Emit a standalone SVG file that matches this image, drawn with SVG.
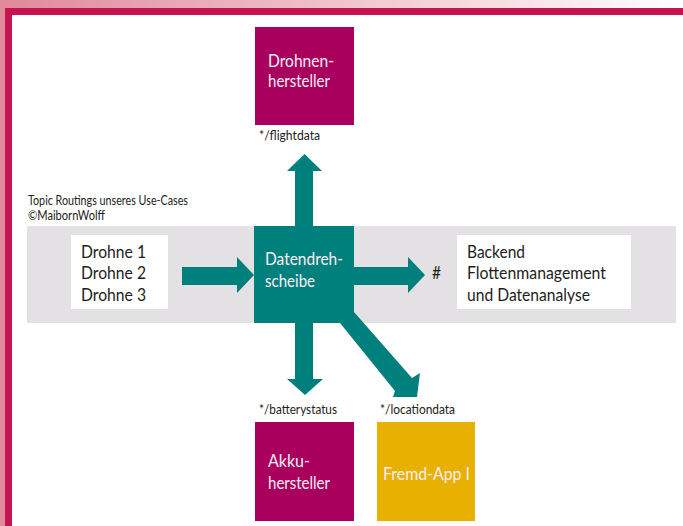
<svg xmlns="http://www.w3.org/2000/svg" width="683" height="526" viewBox="0 0 683 526">
<style>
text{font-family:"Lato","Noto Sans","Liberation Sans",sans-serif}
.n{font-size:16.5px;fill:#1d1d1b}
.w{font-size:16.5px;fill:#fdeef5}
.s{font-size:12.5px;fill:#222}
.a{fill:#00807c}
</style>
<defs><linearGradient id="g" x1="0" x2="1" y1="0" y2="0"><stop offset="0" stop-color="#e0899b"/><stop offset="1" stop-color="#ffffff"/></linearGradient></defs>
<rect width="683" height="526" fill="#fff"/>
<rect x="0" y="0" width="683" height="9" fill="url(#g)"/>
<rect x="0" y="0" width="5" height="526" fill="#e0899b"/>
<rect x="5" y="8" width="678" height="7" fill="#c5144f"/>
<rect x="5" y="8" width="7" height="518" fill="#c5144f"/>
<rect id="band" x="27" y="226" width="649" height="97" fill="#e3e1e3"/>
<text class="s" x="28" y="205" textLength="160" lengthAdjust="spacingAndGlyphs">Topic Routings unseres Use-Cases</text>
<text class="s" x="28" y="220" textLength="77" lengthAdjust="spacingAndGlyphs">©MaibornWolff</text>
<g id="connectors">
<polygon class="a" points="295,226 295,171 287,171 304.500,154 322,171 313,171 313,226"/>
<polygon class="a" points="295,323 295,379 287,379 305,395 323,379 313,379 313,323"/>
<polygon class="a" points="182,267 237,267 237,257 254,275 237,293 237,285 182,285"/>
<polygon class="a" points="354,267 408,267 408,257 425,275 408,293 408,285 354,285"/>
<polygon class="a" points="340,323 395,391 393,397 417,397 420,373 412,378 354,312 354,323"/>
</g>
<g id="drohnen"><rect x="71" y="235" width="97" height="74" fill="#fff"/>
<text class="n" x="81" y="258" textLength="65" lengthAdjust="spacingAndGlyphs">Drohne 1</text><text class="n" x="81" y="279" textLength="65" lengthAdjust="spacingAndGlyphs">Drohne 2</text><text class="n" x="81" y="301" textLength="65" lengthAdjust="spacingAndGlyphs">Drohne 3</text></g>
<g id="backend"><rect x="457" y="235" width="174" height="74" fill="#fff"/>
<text class="n" x="467" y="258" textLength="58" lengthAdjust="spacingAndGlyphs">Backend</text><text class="n" x="467" y="279" textLength="139" lengthAdjust="spacingAndGlyphs">Flottenmanagement</text><text class="n" x="467" y="301" textLength="123" lengthAdjust="spacingAndGlyphs">und Datenanalyse</text></g>
<g id="hub"><rect x="254" y="226" width="100" height="97" fill="#00807c"/>
<text class="w" x="265" y="265" textLength="78" lengthAdjust="spacingAndGlyphs">Datendreh-</text><text class="w" x="265" y="287" textLength="50" lengthAdjust="spacingAndGlyphs">scheibe</text></g>
<g id="drohnenhersteller"><rect x="255" y="27" width="99" height="98" fill="#a8005c"/>
<text class="w" x="268" y="67" textLength="66" lengthAdjust="spacingAndGlyphs">Drohnen-</text><text class="w" x="268" y="87" textLength="62" lengthAdjust="spacingAndGlyphs">hersteller</text></g>
<g id="akkuhersteller"><rect x="255" y="422" width="99" height="99" fill="#a8005c"/>
<text class="w" x="268" y="467" textLength="42" lengthAdjust="spacingAndGlyphs">Akku-</text><text class="w" x="268" y="489" textLength="62" lengthAdjust="spacingAndGlyphs">hersteller</text></g>
<g id="fremdapp"><rect x="377" y="422" width="98" height="99" fill="#e8b000"/>
<text class="w" x="383" y="480" textLength="87" lengthAdjust="spacingAndGlyphs">Fremd-App I</text></g>
<text class="s" x="259" y="140" textLength="61" lengthAdjust="spacingAndGlyphs">*/flightdata</text>
<text class="s" x="259" y="414" textLength="78" lengthAdjust="spacingAndGlyphs">*/batterystatus</text>
<text class="s" x="380" y="414" textLength="75" lengthAdjust="spacingAndGlyphs">*/locationdata</text>
<text class="n" x="432" y="279" textLength="9" lengthAdjust="spacingAndGlyphs">#</text>
</svg>
